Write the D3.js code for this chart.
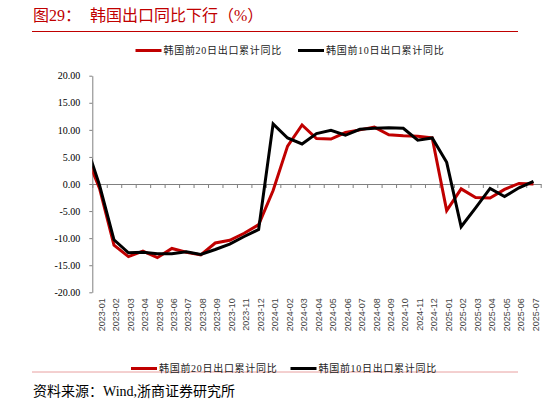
<!DOCTYPE html>
<html>
<head>
<meta charset="utf-8">
<script src="https://cdn.jsdelivr.net/npm/d3@7"></script>
<style>
body { margin: 0; background: #fff; }
svg { display: block; }
</style>
</head>
<body>
<div id="chart"></div>
<script>
var width = 548, height = 403;

// months on the axis
var months = ["2023-01","2023-02","2023-03","2023-04","2023-05","2023-06","2023-07","2023-08","2023-09","2023-10","2023-11","2023-12",
	"2024-01","2024-02","2024-03","2024-04","2024-05","2024-06","2024-07","2024-08","2024-09","2024-10","2024-11","2024-12",
	"2025-01","2025-02","2025-03","2025-04","2025-05","2025-06","2025-07"];

// 韩国前20日出口累计同比 (%)
var first20 = [-0.8, -11.3, -13.4, -12.4, -13.6, -11.9, -12.6, -13.1, -10.9, -10.4, -9.1, -7.5,
	-1.2, 7.0, 10.9, 8.4, 8.3, 9.5, 10.0, 10.5, 9.1, 8.9, 8.8, 8.5,
	-4.9, -0.9, -2.5, -2.6, -1.0, 0.1, 0.0];

// 韩国前10日出口累计同比 (%)
var first10 = [-0.2, -10.3, -12.7, -12.6, -12.9, -12.9, -12.5, -13.0, -12.1, -11.1, -9.7, -8.4,
	11.1, 8.5, 7.4, 9.3, 9.9, 9.0, 10.1, 10.3, 10.4, 10.3, 8.1, 8.5,
	4.0, -7.9, -4.4, -0.8, -2.3, -0.7, 0.5];

// 2022-12 values, the lines enter from the left edge of the plot
var leadIn20 = 5.8, leadIn10 = 7.8;

var yTicks = [-20, -15, -10, -5, 0, 5, 10, 15, 20];

var seriesNames = ["韩国前20日出口累计同比", "韩国前10日出口累计同比"];
var seriesColors = ["#c00000", "#000000"];

var cjk = "'Liberation Serif', 'Noto Sans CJK SC', serif";

var svg = d3.select("#chart")
.append("svg")
.attr("width", width)
.attr("height", height);

var plot = { left: 92.3, right: 540.7, top: 75.7, bottom: 292.3 };

var x = d3.scaleLinear()
.domain([-0.5, months.length - 0.5])
.range([plot.left, plot.right]);

var y = d3.scaleLinear()
.domain([-20, 20])
.range([plot.bottom, plot.top]);

//Title
svg.append("text")
.attr("x", 33)
.attr("y", 21)
.attr("font-family", cjk)
.attr("font-size", 16)
.attr("fill", "#c00000")
.text("图29：");

svg.append("text")
.attr("x", 90)
.attr("y", 21)
.attr("font-family", cjk)
.attr("font-size", 16)
.attr("fill", "#c00000")
.text("韩国出口同比下行（%）");

svg.append("line")
.attr("x1", 32).attr("x2", 518)
.attr("y1", 31.5).attr("y2", 31.5)
.attr("stroke", "#c00000")
.attr("stroke-width", 1);

//Y axis
var yAxis = svg.append("g")
.attr("transform", "translate(" + plot.left + ",0)")
.call(d3.axisLeft(y)
	.tickValues(yTicks)
	.tickFormat(function(d) { return d.toFixed(2); })
	.tickSize(3)
	.tickSizeOuter(0)
	.tickPadding(9));

yAxis.select(".domain").attr("stroke", "#808080");
yAxis.selectAll(".tick line").attr("stroke", "#808080");
yAxis.selectAll("text")
.attr("font-family", "'Liberation Serif', serif")
.attr("font-size", 10)
.attr("fill", "#000");

//X axis line at zero with ticks between months
var xAxis = svg.append("g")
.attr("transform", "translate(0," + y(0) + ")")
.call(d3.axisBottom(x)
	.tickValues(d3.range(months.length + 1).map(function(i) { return i - 0.5; }))
	.tickFormat("")
	.tickSize(4)
	.tickSizeOuter(0));

xAxis.select(".domain").attr("stroke", "#808080");
xAxis.selectAll(".tick line").attr("stroke", "#808080");

//Month labels under the plot
svg.selectAll(".month_label")
.data(months)
.enter()
.append("text")
.attr("class", "month_label")
.attr("transform", function(d, i) {
	return "translate(" + (x(i) + 2) + "," + (plot.bottom + 6) + ") rotate(-90)";
})
.attr("dy", "0.35em")
.attr("text-anchor", "end")
.attr("font-family", "'Liberation Sans', Arial, sans-serif")
.attr("font-size", 9)
.attr("fill", "#444")
.text(function(d) { return d; });

//Lines, clipped to the plot area
svg.append("clipPath")
.attr("id", "plot-clip")
.append("rect")
.attr("x", plot.left)
.attr("y", plot.top - 5)
.attr("width", plot.right - plot.left + 5)
.attr("height", plot.bottom - plot.top + 10);

var line = d3.line()
.x(function(d) { return x(d.i); })
.y(function(d) { return y(d.v); });

function toPoints(lead, values) {
	var pts = [{ i: -1, v: lead }];
	values.forEach(function(v, i) { pts.push({ i: i, v: v }); });
	return pts;
}

var lines = [toPoints(leadIn20, first20), toPoints(leadIn10, first10)];

svg.append("g")
.attr("clip-path", "url(#plot-clip)")
.selectAll("path")
.data(lines)
.enter()
.append("path")
.attr("d", line)
.attr("fill", "none")
.attr("stroke", function(d, i) { return seriesColors[i]; })
.attr("stroke-width", 3)
.attr("stroke-linejoin", "miter");

//Legends (top and bottom)
function drawLegend(ys, positions) {
	var g = svg.append("g");
	positions.forEach(function(px, i) {
		g.append("line")
		.attr("x1", px).attr("x2", px + 26)
		.attr("y1", ys).attr("y2", ys)
		.attr("stroke", seriesColors[i])
		.attr("stroke-width", 3);
		g.append("text")
		.attr("x", px + 28)
		.attr("y", ys + 3.5)
		.attr("font-family", cjk)
		.attr("font-size", 10)
		.attr("letter-spacing", 0.7)
		.attr("fill", "#222")
		.text(seriesNames[i]);
	});
}

svg.append("line")
.attr("x1", 32).attr("x2", 518)
.attr("y1", 372).attr("y2", 372)
.attr("stroke", "#e8a0a0")
.attr("stroke-width", 1);

drawLegend(50.5, [135.5, 298]);
drawLegend(368.5, [131, 290.5]);

//Source
svg.append("text")
.attr("x", 33)
.attr("y", 396)
.attr("font-family", cjk)
.attr("font-size", 14)
.attr("fill", "#000")
.text("资料来源：Wind,浙商证券研究所");
</script>
</body>
</html>
